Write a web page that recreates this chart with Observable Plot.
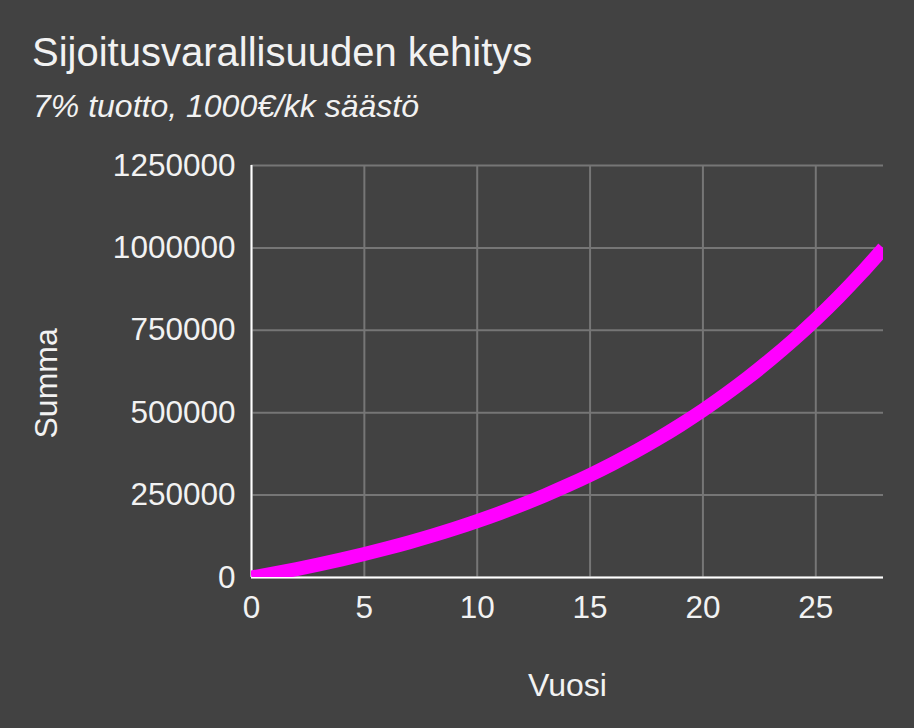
<!DOCTYPE html>
<html><head><meta charset="utf-8">
<script src="https://cdn.jsdelivr.net/npm/d3@7"></script>
<script src="https://cdn.jsdelivr.net/npm/@observablehq/plot@0.6"></script>
<style>
html,body{margin:0;padding:0;background:#424242;width:914px;height:728px;overflow:hidden}
#wrap{position:relative;width:914px;height:728px;font-family:"Liberation Sans",Arial,sans-serif;color:#f2f2f2}
#title{position:absolute;left:32px;top:32px;font-size:40px;line-height:40px;white-space:nowrap}
#subtitle{position:absolute;left:33px;top:90px;font-size:32px;line-height:32px;font-style:italic;white-space:nowrap}
#chart{position:absolute;left:0;top:140px}
</style></head>
<body><div id="wrap">
<div id="title">Sijoitusvarallisuuden kehitys</div>
<div id="subtitle">7% tuotto, 1000€/kk säästö</div>
<div id="chart"></div>
</div>
<script>
const years = [0,1,2,3,4,5,6,7,8,9,10,11,12,13,14,15,16,17,18,19,20,21,22,23,24,25,26,27,28];
const summa = [0,12400,25600,39800,55000,71200,88600,107100,127000,148300,171100,195400,221500,249300,279200,311100,345300,381800,420900,462800,507500,555400,606700,661600,720200,783000,850200,922100,999100];
const xTicks = [0,5,10,15,20,25];
const yTicks = [0,250000,500000,750000,1000000,1250000];
const xLabel = "Vuosi";
const yLabel = "Summa";

const data = years.map((v,i)=>({vuosi:v, summa:summa[i]}));
const txt = "#f2f2f2";
const grid = "#767676";

const chart = Plot.plot({
  width: 914,
  height: 588,
  marginTop: 25,
  marginLeft: 251,
  marginRight: 31,
  marginBottom: 151,
  style: {background:"transparent", color: txt, fontFamily:'"Liberation Sans", Arial, sans-serif', fontSize:"30px"},
  x: {domain:[0,28]},
  y: {domain:[0,1250000]},
  marks: [
    Plot.gridY(yTicks, {stroke: grid, strokeOpacity:1, strokeWidth:2}),
    Plot.gridX(xTicks, {stroke: grid, strokeOpacity:1, strokeWidth:2}),
    Plot.ruleX([0], {stroke:"#ffffff", strokeWidth:2}),
    Plot.ruleY([0], {stroke:"#ffffff", strokeWidth:2}),
    Plot.line(data, {x:"vuosi", y:"summa", stroke:"#ff00ff", strokeWidth:14, curve:"monotone-x", clip:true, strokeLinecap:"butt"}),
    Plot.axisY(yTicks, {tickSize:0, tickPadding:16, fontSize:31.5, label:null, tickFormat:d=>String(d), fill: txt}),
    Plot.axisX(xTicks, {tickSize:0, tickPadding:18, fontSize:31.5, label:null, tickFormat:d=>String(d), fill: txt}),
    Plot.text([yLabel], {frameAnchor:"left", dx:-205, dy:67, rotate:-90, fontSize:32, fill:txt}),
    Plot.text([xLabel], {frameAnchor:"bottom", dy:118, fontSize:32, fill:txt})
  ]
});
document.getElementById("chart").appendChild(chart);
</script>
</body></html>
